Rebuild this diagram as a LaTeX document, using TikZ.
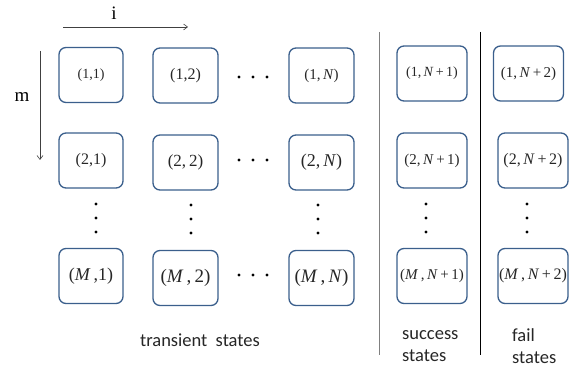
\documentclass[tikz,border=0pt]{standalone}
\usepackage{fontspec}
\setmainfont{Liberation Serif}
\newfontfamily\labelfont{Carlito}
\usetikzlibrary{arrows.meta}
\definecolor{boxblue}{HTML}{3B5F8C}
\tikzset{
  x=1pt, y=-1pt,
  statebox/.style={draw=boxblue, line width=1.3pt, rounded corners=7pt,
    minimum width=65pt, minimum height=55pt, inner sep=0pt, text=black!85},
  fs/.style={font=\fontsize{#1}{#1}\selectfont},
  vdot/.style={circle, fill=black, inner sep=0pt, minimum size=3.2pt},
  divider/.style={line width=1pt},
  axisarrow/.style={line width=0.6pt, draw=black!75, -{Straight Barb[length=4pt,width=6pt]}},
  caption/.style={font=\labelfont\fontsize{18.5}{22}\selectfont, text=black!85, inner sep=0pt}
}
\newcommand{\ital}[1]{\textit{#1}}
\begin{document}
\begin{tikzpicture}
\useasboundingbox (0,0) rectangle (581,374);

% index arrows
\coordinate (iStart) at (63,27);
\coordinate (iEnd) at (188,27);
\draw[axisarrow] (iStart) -- (iEnd);
\node[fs=19, inner sep=0pt] (ilabel) at (114,13) {i};
\coordinate (mStart) at (40,51);
\coordinate (mEnd) at (40,160);
\draw[axisarrow] (mStart) -- (mEnd);
\node[fs=19, inner sep=0pt] (mlabel) at (22,97) {m};

% transient states
\node[statebox, minimum width=64pt, fs=14] (s11) at (91,75) {(1,1)};
\node[statebox, fs=16] (s12) at (185.5,75.5) {(1,2)};
\node[statebox, fs=15] (s1N) at (321.5,75.5) {(1,\,\ital{N})};
\node[statebox, minimum width=64pt, fs=16] (s21) at (91,160.5) {(2,1)};
\node[statebox, fs=17] (s22) at (185.5,162.5) {(2,\,2)};
\node[statebox, fs=18] (s2N) at (321.5,162.5) {(2,\,\ital{N})};
\node[statebox, minimum width=64pt, fs=18] (sM1) at (91,276) {(\ital{M}\,,1)};
\node[statebox, fs=19] (sM2) at (185.5,278) {(\ital{M}\,,\,2)};
\node[statebox, fs=19] (sMN) at (321.5,278) {(\ital{M}\,,\,\ital{N})};

% success states
\node[statebox, minimum width=70pt, fs=14] (s1S) at (432,73.5) {(1,\,\ital{N}\,+\,1)};
\node[statebox, minimum width=70pt, fs=15] (s2S) at (432,160.5) {(2,\,\ital{N}\,+\,1)};
\node[statebox, minimum width=70pt, fs=15] (sMS) at (432,276) {(\ital{M}\,,\,\ital{N}\,+\,1)};

% fail states
\node[statebox, minimum width=70pt, fs=15] (s1F) at (528.5,73.5) {(1,\,\ital{N}\,+\,2)};
\node[statebox, minimum width=70pt, fs=16] (s2F) at (533,160.5) {(2,\,\ital{N}\,+\,2)};
\node[statebox, minimum width=70pt, fs=16] (sMF) at (533,276) {(\ital{M}\,,\,\ital{N}\,+\,2)};

% horizontal ellipses
\foreach \r/\y in {1/77, 2/160, M/275} {
  \foreach \x in {239,253,267} \node[vdot] at (\x,\y) {};
}
% vertical ellipses
\foreach \x/\y in {96/204, 191/205, 318/205, 426/204, 527/204} {
  \foreach \d in {0,14,28} \node[vdot] at (\x,\y+\d) {};
}

% dividers
\coordinate (d1top) at (379,32);
\coordinate (d1bot) at (379,355);
\coordinate (d2top) at (480,32);
\coordinate (d2bot) at (480,355);
\draw[divider, draw=black!50] (d1top) -- (d1bot);
\draw[divider, draw=black] (d2top) -- (d2bot);

% group captions
\node[caption] (ctrans) at (200,340) {transient\ \ states};
\node[caption, anchor=west, align=left] (csucc) at (402,346) {success\\states};
\node[caption, anchor=west, align=left] (cfail) at (512,346) {fail\\states};
\end{tikzpicture}
\end{document}
